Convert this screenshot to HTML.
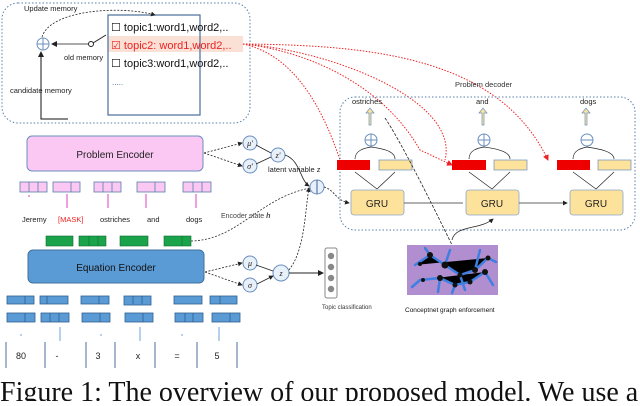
<!DOCTYPE html>
<html><head><meta charset="utf-8"><style>
body{margin:0;background:#fff}
svg text{font-family:"Liberation Sans",sans-serif}
svg text.cap{font-family:"Liberation Serif",serif}
svg text.it{font-family:"Liberation Serif",serif}
</style></head><body>
<svg width="640" height="401" viewBox="0 0 640 401" xmlns="http://www.w3.org/2000/svg">
<defs>
<marker id="a" markerWidth="6" markerHeight="6" refX="5" refY="3" orient="auto"><path d="M0,0 L6,3 L0,6z" fill="#222"/></marker>
<marker id="ar" markerWidth="6" markerHeight="6" refX="5" refY="3" orient="auto"><path d="M0,0 L6,3 L0,6z" fill="#e22"/></marker>
</defs>
<rect x="2" y="3" width="248" height="120" rx="16" fill="none" stroke="#5a7fa8" stroke-dasharray="1.5,2"/>
<rect x="108" y="36" width="135" height="16" fill="#fbe0d6"/>
<rect x="108" y="15" width="92" height="100" fill="none" stroke="#4a6f9a" stroke-width="1.2"/>
<text x="111" y="31" font-size="11" fill="#111">☐ topic1:word1,word2,..</text>
<text x="111" y="49" font-size="11" fill="#e22">☑ topic2: word1,word2,..</text>
<text x="111" y="67" font-size="11" fill="#111">☐ topic3:word1,word2,..</text>
<text x="112" y="85" font-size="8" fill="#4a6f9a">.....</text>
<circle cx="43" cy="44" r="6" fill="none" stroke="#6b8fbf"/>
<path d="M37,44h12M43,38v12" stroke="#6b8fbf"/>
<path d="M42,37 C50,10 120,5 155,15" fill="none" stroke="#222" stroke-dasharray="2,1.5" stroke-width=".8" marker-end="url(#a)"/>
<text x="24" y="11" font-size="7.5" fill="#222">Update memory</text>
<path d="M88,44H52" stroke="#555" marker-end="url(#a)"/>
<circle cx="91" cy="44" r="2.5" fill="#fff" stroke="#222"/>
<path d="M93,43 L106,35" stroke="#222"/>
<text x="64" y="60" font-size="7.5" fill="#222">old memory</text>
<path d="M68,119H41V52" fill="none" stroke="#111" stroke-width="1" marker-end="url(#a)"/>
<text x="10" y="93" font-size="7.5" fill="#222">candidate memory</text>
<g fill="none" stroke="#e22" stroke-dasharray="1.5,1.5" stroke-width="1">
<path d="M243,44 C380,45 500,60 548,160" marker-end="url(#ar)"/>
<path d="M243,44 C330,50 460,100 445,160"/>
<path d="M243,44 C300,50 380,80 420,150 L452,165" marker-end="url(#ar)"/>
<path d="M243,44 C270,50 310,70 340,160"/>
</g>
<rect x="27" y="136" width="176" height="35" rx="5" fill="#fbc8f4" stroke="#6b8fbf"/>
<text x="115" y="158" font-size="10" text-anchor="middle" fill="#222">Problem Encoder</text>
<g fill="#fbc8f4" stroke="#5a7fa8" stroke-width=".8">
<rect x="20" y="182" width="27" height="10"/><rect x="53" y="182" width="27" height="10"/><rect x="94" y="182" width="27" height="10"/><rect x="137" y="182" width="28" height="10"/><rect x="183" y="182" width="28" height="10"/>
</g>
<g stroke="#5a7fa8" stroke-width=".8"><path d="M29,182v10M38,182v10M71,182v10M103,182v10M112,182v10M155,182v10M193,182v10M202,182v10"/></g>
<g stroke="#e040c0" stroke-width="1"><path d="M67,208v-14M108,208v-14M146,208v-14M196,208v-14M29,197v-2"/></g>
<text x="22" y="222" font-size="7.5" fill="#222">Jeremy</text>
<text x="58" y="222" font-size="7.5" fill="#e22">[MASK]</text>
<text x="100" y="222" font-size="7.5" fill="#222">ostriches</text>
<text x="147" y="222" font-size="7.5" fill="#222">and</text>
<text x="186" y="222" font-size="7.5" fill="#222">dogs</text>
<g fill="#1aa34a" stroke="#0d6d2e" stroke-width=".6">
<rect x="46" y="236" width="27" height="10"/><rect x="79" y="236" width="27" height="10"/><rect x="120" y="236" width="28" height="10"/><rect x="164" y="236" width="27" height="10"/>
</g>
<path d="M89,236v10M98,236v10M182,236v10" stroke="#0d6d2e" stroke-width=".6"/>
<path d="M191,241 C240,240 260,195 316,187" fill="none" stroke="#333" stroke-dasharray="2,1.5" stroke-width=".8" marker-end="url(#a)"/>
<text x="221" y="218" font-size="7" fill="#444">Encoder state <tspan font-style="italic" font-weight="bold">h</tspan></text>
<rect x="28" y="250" width="176" height="33" rx="5" fill="#5b9bd5" stroke="#41719c"/>
<text x="116" y="271" font-size="10" text-anchor="middle" fill="#111">Equation Encoder</text>
<g fill="#5b9bd5" stroke="#2f5f8f" stroke-width=".8">
<rect x="7" y="296" width="27" height="8"/><rect x="40" y="296" width="28" height="8"/><rect x="81" y="296" width="28" height="8"/><rect x="124" y="296" width="27" height="9"/><rect x="174" y="296" width="28" height="8"/><rect x="210" y="296" width="27" height="8"/>
<rect x="7" y="313" width="28" height="9"/><rect x="41" y="313" width="28" height="9"/><rect x="82" y="313" width="28" height="9"/><rect x="125" y="313" width="28" height="9"/><rect x="175" y="313" width="28" height="9"/><rect x="212" y="313" width="28" height="9"/>
</g>
<g stroke="#2f5f8f" stroke-width=".8"><path d="M25,296v8M47,296v8M99,296v8M133,296v8M142,296v8M220,296v8M25,313v9M50,313v9M59,313v9M100,313v9M143,313v9M185,313v9M193,313v9M230,313v9"/></g>
<g stroke="#6fa0d8" stroke-width="1"><path d="M60,341v-14M140,341v-14M219,341v-14M21,336v-2M101,336v-2M182,336v-2"/></g>
<g stroke="#4a6f9a" stroke-width="1"><path d="M6,342v26M45,342v26M86,342v26M115,342v26M155,342v26M197,342v26M237,342v26"/></g>
<g font-size="9" fill="#222" text-anchor="middle"><text x="21" y="359">80</text><text x="57" y="359">-</text><text x="98" y="359">3</text><text x="138" y="359">x</text><text x="177" y="359">=</text><text x="217" y="359">5</text></g>
<g fill="#e8f0fa" stroke="#6b8fbf">
<circle cx="250" cy="143" r="7"/><circle cx="250" cy="166" r="7"/><circle cx="278" cy="155" r="7"/><circle cx="317" cy="187" r="7"/>
<circle cx="250" cy="263" r="7"/><circle cx="250" cy="285" r="7"/><circle cx="281" cy="273" r="8"/>
</g>
<path d="M317,180v14" stroke="#3a5f9a"/>
<g font-size="8" font-style="italic" fill="#222" text-anchor="middle"><text class="it" x="250" y="146">μ'</text><text class="it" x="250" y="169">σ'</text><text class="it" x="278" y="158">z'</text><text class="it" x="250" y="266">μ</text><text class="it" x="250" y="288">σ</text><text class="it" x="281" y="276">z</text></g>
<text x="268" y="172" font-size="7.5" fill="#222">latent variable z</text>
<g fill="none" stroke="#222" stroke-width=".8" stroke-dasharray="2,1.5">
<path d="M204,153 L242,143" marker-end="url(#a)"/><path d="M204,153 L242,166" marker-end="url(#a)"/>
<path d="M205,272 L242,263" marker-end="url(#a)"/><path d="M205,272 L242,285" marker-end="url(#a)"/>
<path d="M289,270 C305,250 305,210 309,188" marker-end="url(#a)"/>
</g>
<path d="M256,145 L271,153M256,164 L271,157M256,265 L273,271M257,284 L273,276" stroke="#222" stroke-width=".8" marker-end="url(#a)"/>
<path d="M285,155 C300,160 300,180 309,186" fill="none" stroke="#222" stroke-width=".8" marker-end="url(#a)"/>
<path d="M289,273 H323" stroke="#222" marker-end="url(#a)"/>
<path d="M324,187 C335,190 335,200 349,203" fill="none" stroke="#222" stroke-dasharray="2,1.5" stroke-width=".8" marker-end="url(#a)"/>
<rect x="325" y="248" width="12" height="50" rx="2" fill="#fff" stroke="#888"/>
<g fill="#888"><circle cx="331" cy="256" r="3.2"/><circle cx="331" cy="267" r="3.2"/><circle cx="331" cy="278" r="3.2"/><circle cx="331" cy="289" r="3.2"/></g>
<text x="322" y="309" font-size="6" fill="#333">Topic classification</text>
<rect x="340" y="97" width="295" height="133" rx="15" fill="none" stroke="#5a7fa8" stroke-dasharray="1.5,2"/>
<text x="455" y="87" font-size="7.5" fill="#333">Problem decoder</text>
<g font-size="7.5" fill="#222"><text x="352" y="104">ostriches</text><text x="476" y="104">and</text><text x="580" y="104">dogs</text></g>
<g fill="#fde29b" stroke="#6b8fbf" stroke-width=".7">
<path d="M369,125v-12h-3l4,-5 4,5h-3v12z"/><path d="M482,125v-12h-3l4,-5 4,5h-3v12z"/><path d="M585,125v-12h-3l4,-5 4,5h-3v12z"/>
</g>
<g fill="#fff" stroke="#6b8fbf">
<circle cx="371" cy="140" r="6"/><circle cx="484" cy="140" r="6"/><circle cx="587" cy="140" r="6"/>
</g>
<path d="M365,140h12M371,134v12M478,140h12M484,134v12M581,140h12" stroke="#6b8fbf"/>
<g fill="#ee0000"><rect x="337" y="160" width="33" height="10"/><rect x="452" y="160" width="34" height="10"/><rect x="557" y="160" width="33" height="10"/></g>
<g fill="#fde29b" stroke="#6b8fbf" stroke-width=".7"><rect x="379" y="160" width="33" height="10"/><rect x="494" y="160" width="33" height="10"/><rect x="598" y="160" width="33" height="10"/></g>
<g fill="none" stroke="#222" stroke-width=".7">
<path d="M355,159 C355,150 365,148 371,147M395,159 C395,150 378,148 371,147"/>
<path d="M469,159 C469,150 478,148 484,147M510,159 C510,150 490,148 484,147"/>
<path d="M573,159 C573,150 582,148 587,147M614,159 C614,150 592,148 587,147"/>
<path d="M377,189 L355,172M377,189 L395,172M492,189 L469,172M492,189 L510,172M596,189 L573,172M596,189 L614,172"/>
</g>
<g fill="#fde29b" stroke="#8aa6c8" stroke-width=".8">
<rect x="351" y="190" width="53" height="25" rx="3"/><rect x="466" y="190" width="53" height="25" rx="3"/><rect x="570" y="190" width="53" height="25" rx="3"/>
</g>
<g font-size="10" fill="#222" text-anchor="middle"><text x="377" y="207">GRU</text><text x="492" y="207">GRU</text><text x="596" y="207">GRU</text></g>
<path d="M404,203H463M519,203H567" stroke="#333" stroke-width=".8" marker-end="url(#a)"/>
<path d="M385,118 C400,140 430,200 452,245" fill="none" stroke="#222" stroke-width=".8" stroke-dasharray="3,1.5"/>
<path d="M452,240 C455,225 480,230 493,219" fill="none" stroke="#222" stroke-width=".8" marker-end="url(#a)"/>
<rect x="407" y="245" width="91" height="50" fill="#b08ed0"/>
<g stroke="#3f7fe0" stroke-width="2.5" stroke-linecap="round">
<path d="M415,265 L430,255 L445,265 L460,275 L475,270 L488,258M420,280 L440,278 L455,285 L470,282 L485,272M430,255 L425,248M445,265 L450,250M460,275 L465,290M475,270 L480,250M488,258 L496,262M420,280 L412,287M440,278 L438,292M455,285 L452,293M485,272 L493,285"/>
</g>
<g fill="#111"><circle cx="430" cy="255" r="3"/><circle cx="445" cy="265" r="3.5"/><circle cx="460" cy="275" r="2.5"/><circle cx="475" cy="270" r="3"/><circle cx="488" cy="258" r="2.5"/><circle cx="440" cy="278" r="3"/><circle cx="455" cy="285" r="2.5"/><circle cx="470" cy="282" r="2.5"/><circle cx="485" cy="272" r="3"/><circle cx="420" cy="264" r="2"/><circle cx="423" cy="280" r="2"/></g>
<text x="405" y="312" font-size="6.5" fill="#111">Conceptnet graph enforcement</text>
<text class="cap" x="0" y="401" font-size="28" fill="#111">Figure 1:  The overview of our proposed model. We use a</text>
</svg>
</body></html>
